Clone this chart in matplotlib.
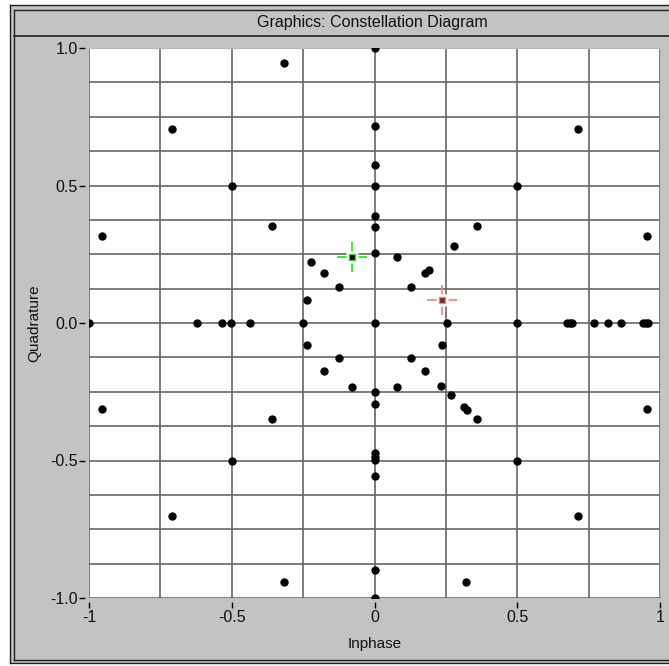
import matplotlib
matplotlib.use("Agg")
import matplotlib.pyplot as plt
from matplotlib.lines import Line2D
from matplotlib.patches import Rectangle
from matplotlib.ticker import FixedLocator, MultipleLocator

# ---------------- data ----------------
title_text = "Graphics: Constellation Diagram"
x_label = "Inphase"
y_label = "Quadrature"
x_ticks = [-1.0, -0.5, 0.0, 0.5, 1.0]
x_tick_labels = ["-1", "-0.5", "0", "0.5", "1"]
y_ticks = [-1.0, -0.5, 0.0, 0.5, 1.0]
y_tick_labels = ["-1.0", "-0.5", "0.0", "0.5", "1.0"]

# points on the Q axis (I = 0)
axis_q = [1.0, 0.716, 0.576, 0.5, 0.39, 0.348, 0.254, 0.0, -0.25, -0.296,
          -0.474, -0.486, -0.497, -0.556, -0.899, -1.0]
# points on the I axis (Q = 0)
axis_i = [-1.0, -0.623, -0.533, -0.503, -0.437, -0.25, 0.253, 0.5,
          0.675, 0.685, 0.693, 0.768, 0.818, 0.863, 0.94, 0.95, 0.957]
# remaining symbols
sym_i = [-0.317, -0.711, -0.5, -0.358, -0.953, -0.08, -0.222, -0.176, -0.124, -0.237,
         0.712, 0.5, 0.359, 0.953, 0.277, 0.08, 0.176, 0.192, 0.127, 0.236,
         -0.236, -0.124, -0.176, -0.08, -0.953, -0.358, -0.5, -0.711, -0.317,
         0.236, 0.127, 0.176, 0.08, 0.233, 0.268, 0.312, 0.323, 0.359, 0.5, 0.953,
         0.712, 0.319]
sym_q = [0.946, 0.707, 0.5, 0.354, 0.316, 0.239, 0.223, 0.181, 0.130, 0.083,
         0.707, 0.5, 0.354, 0.316, 0.280, 0.239, 0.181, 0.193, 0.130, 0.082,
         -0.079, -0.126, -0.176, -0.234, -0.312, -0.348, -0.5, -0.702, -0.941,
         -0.079, -0.126, -0.176, -0.234, -0.230, -0.261, -0.307, -0.317, -0.348, -0.5, -0.312,
         -0.702, -0.941]
# cursors
cursor_green = (-0.08, 0.239)
cursor_red = (0.236, 0.082)

# ---------------- style ----------------
plt.rcParams["font.family"] = ["Liberation Sans", "DejaVu Sans"]

W, H = 669, 666
fig = plt.figure(figsize=(W / 100, H / 100), dpi=100, facecolor="white")

def fx(px):
    return px / W

def fy(py):
    return 1 - py / H

panel_gray = "#c4c2c4"
dark = "#202020"

fig.add_artist(Rectangle((fx(10), fy(663)), fx(W - 10 + 5), 658 / H,
                         transform=fig.transFigure, facecolor=panel_gray,
                         edgecolor="none", zorder=0))

def hline(y, x0, x1, c=dark, lw=1.0):
    fig.add_artist(Line2D([fx(x0), fx(x1)], [fy(y), fy(y)], transform=fig.transFigure,
                          color=c, lw=lw, zorder=1))

def vline(x, y0, y1, c=dark, lw=1.0):
    fig.add_artist(Line2D([fx(x), fx(x)], [fy(y0), fy(y1)], transform=fig.transFigure,
                          color=c, lw=lw, zorder=1))

hline(5, 10, W)
vline(10, 5, 663)
vline(14, 10, 660)
hline(10, 14, W)
hline(36, 14, W, lw=1.2)
hline(660, 14, W)
hline(663, 10, W)

fig.text(fx(372), fy(22), title_text, ha="center", va="center", fontsize=11.5, color="#101010")

ax = fig.add_axes([fx(89), fy(598), (660 - 89) / W, (598 - 48) / H])
ax.set_facecolor("white")
ax.set_xlim(-1, 1)
ax.set_ylim(-1, 1)

ax.xaxis.set_major_locator(FixedLocator(x_ticks))
ax.yaxis.set_major_locator(FixedLocator(y_ticks))
ax.set_xticklabels(x_tick_labels)
ax.set_yticklabels(y_tick_labels)
ax.xaxis.set_minor_locator(MultipleLocator(0.25))
ax.yaxis.set_minor_locator(MultipleLocator(0.125))
ax.grid(True, which="both", color="#666666", lw=1.2, zorder=1)
ax.set_axisbelow(True)
ax.tick_params(which="minor", length=0)
ax.tick_params(which="major", direction="out", length=4, width=1.0, color="black",
               labelsize=11.5, labelcolor="#101010")
ax.tick_params(axis="y", pad=1)
ax.tick_params(axis="x", pad=2)

for s in ["left", "bottom"]:
    ax.spines[s].set_position(("outward", 3))
    ax.spines[s].set_visible(False)
for s in ["top", "right"]:
    ax.spines[s].set_color("#b8b8b8")
    ax.spines[s].set_linewidth(0.8)

ax.set_xlabel(x_label, fontsize=11, color="#101010", labelpad=8)
ax.set_ylabel(y_label, fontsize=11, color="#101010")
ax.yaxis.set_label_coords((41 - 89) / 571, 0.5)

ms = 5
ax.plot([0.0] * len(axis_q), axis_q, "o", color="black", ms=ms, zorder=3)
ax.plot(axis_i, [0.0] * len(axis_i), "o", color="black", ms=ms, zorder=3)
ax.plot(sym_i, sym_q, "o", color="black", ms=ms, zorder=3)

# cursors: crosshair with a gap around the centre square
for (cx, cy), col, face in [(cursor_green, "#22dd22", "black"), (cursor_red, "#f08080", "#603030")]:
    ax.plot([cx], [cy], marker="+", color=col, ms=22, mew=1.2, zorder=4)
    ax.plot([cx], [cy], marker="s", mfc="white", mec="none", ms=9, zorder=4.5)
    ax.plot([cx], [cy], marker="s", mfc=face, mec=col, ms=5, mew=1, zorder=5)

fig.savefig("out.png", dpi=100, facecolor="white")
